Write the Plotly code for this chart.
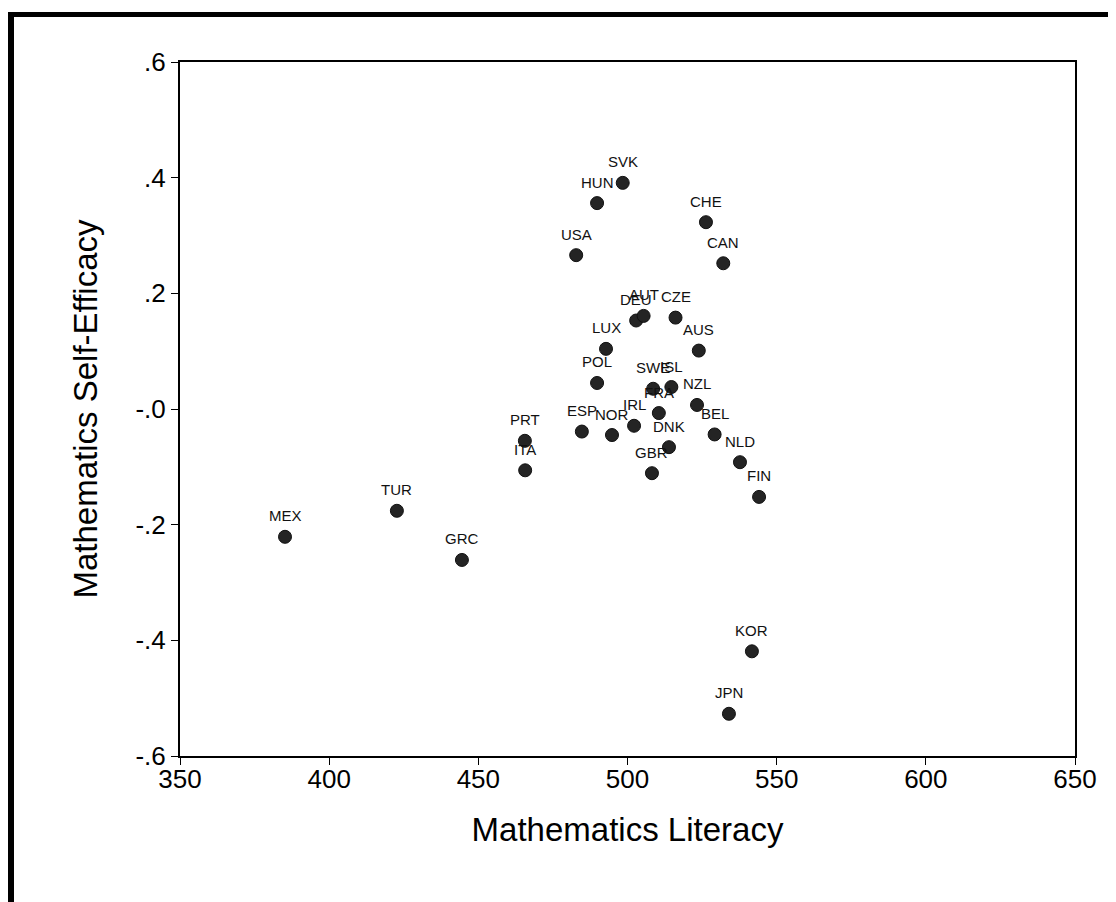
import plotly.graph_objects as go

countries = ["MEX", "TUR", "GRC", "PRT", "ITA", "USA", "HUN", "SVK", "ESP", "NOR",
             "POL", "LUX", "IRL", "DEU", "AUT", "CZE", "SWE", "ISL", "FRA", "DNK",
             "GBR", "NZL", "AUS", "BEL", "NLD", "FIN", "CHE", "CAN", "KOR", "JPN"]
math_literacy = [385.2, 422.7, 444.5, 465.6, 465.7, 482.8, 489.8, 498.4, 484.7, 494.8,
                 489.8, 492.8, 502.2, 502.9, 505.4, 516.1, 508.6, 514.7, 510.5, 513.9,
                 508.2, 523.3, 523.9, 529.2, 537.7, 544.1, 526.3, 532.1, 541.7, 534.0]
self_efficacy = [-0.221, -0.176, -0.261, -0.055, -0.106, 0.266, 0.356, 0.391, -0.039, -0.045,
                 0.045, 0.104, -0.029, 0.153, 0.161, 0.158, 0.035, 0.038, -0.007, -0.066,
                 -0.111, 0.007, 0.101, -0.044, -0.092, -0.152, 0.323, 0.252, -0.419, -0.527]

x_ticks = [350, 400, 450, 500, 550, 600, 650]
y_ticks = [0.6, 0.4, 0.2, 0.0, -0.2, -0.4, -0.6]
y_ticktext = [".6", ".4", ".2", "-.0", "-.2", "-.4", "-.6"]

# page is offset by the 8px body margin
OFF = 8
W, H = 1116 - OFF, 902 - OFF
L, T = 180 - OFF, 62 - OFF
R = W - (1075 - OFF)
B = H - (756 - OFF)
pw, ph = W - L - R, H - T - B

FONT = "Arial, Liberation Sans, Helvetica, sans-serif"

fig = go.Figure()
fig.add_trace(go.Scatter(
    x=math_literacy, y=self_efficacy, mode="markers",
    marker=dict(size=13, color="#242424", line=dict(color="#111111", width=1)),
    hoverinfo="text", text=countries, showlegend=False,
))

for c, xv, yv in zip(countries, math_literacy, self_efficacy):
    fig.add_annotation(x=xv, y=yv, text=c, showarrow=False, yshift=21,
                       font=dict(family=FONT, size=15, color="#111111"))

def px_x(p):
    return (p - OFF - L) / pw

def px_y(p):
    return (H - B - (p - OFF)) / ph

# thick outer frame (top and left)
fig.add_shape(type="rect", xref="paper", yref="paper",
              x0=px_x(8), x1=px_x(1116 + 10), y0=px_y(17), y1=px_y(12),
              fillcolor="black", line=dict(width=0), layer="above")
fig.add_shape(type="rect", xref="paper", yref="paper",
              x0=px_x(8), x1=px_x(14), y0=px_y(902 + 10), y1=px_y(12),
              fillcolor="black", line=dict(width=0), layer="above")

axis_common = dict(showline=True, mirror=True, linecolor="black", linewidth=2,
                   ticks="outside", ticklen=7, tickwidth=1, tickcolor="black",
                   showgrid=False, zeroline=False,
                   tickfont=dict(family=FONT, size=26, color="black"))

fig.update_xaxes(range=[350, 650], tickvals=x_ticks, ticklabelstandoff=-8, **axis_common,
                 title=dict(text="Mathematics Literacy", standoff=25,
                            font=dict(family=FONT, size=33, color="black")))
fig.update_yaxes(range=[-0.6, 0.6], tickvals=y_ticks, ticktext=y_ticktext, **axis_common,
                 title=dict(text="Mathematics Self-Efficacy", standoff=28,
                            font=dict(family=FONT, size=33, color="black")))

fig.update_layout(width=W, height=H, margin=dict(l=L, r=R, t=T, b=B, autoexpand=False),
                  paper_bgcolor="white", plot_bgcolor="white")

fig.write_html("out.html")
